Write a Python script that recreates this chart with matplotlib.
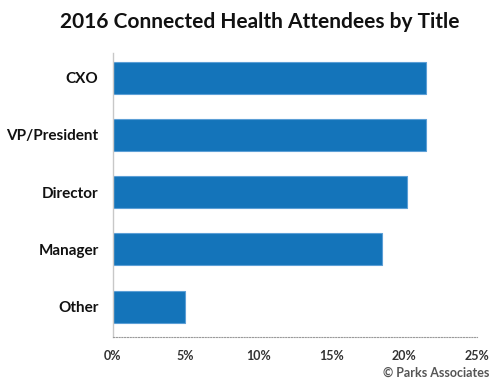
import matplotlib
matplotlib.use("Agg")
import matplotlib.pyplot as plt

titles = ["CXO", "VP/President", "Director", "Manager", "Other"]
shares = [21.5, 21.5, 20.2, 18.5, 5.0]
xticks = [0, 5, 10, 15, 20, 25]
xtick_labels = ["0%", "5%", "10%", "15%", "20%", "25%"]

plt.rcParams["font.family"] = ["Lato", "DejaVu Sans"]

fig = plt.figure(figsize=(5.0, 3.88), dpi=100)
ax = fig.add_axes([0.225, 0.1314, 0.729, 0.7316])

ypos = list(range(len(titles)))
ax.barh(ypos, shares, height=0.56, color="#1474ba", edgecolor="#5c9fd6", linewidth=0.8)

ax.set_xlim(0, 25)
ax.set_ylim(4.53, -0.43)
ax.set_yticks(ypos)
ax.set_yticklabels(titles, fontsize=11, fontweight="bold", color="#111111")
ax.set_xticks(xticks)
ax.set_xticklabels(xtick_labels, fontsize=9, fontweight="bold", color="#333333")
ax.tick_params(axis="both", length=0)
ax.tick_params(axis="y", pad=10)
ax.tick_params(axis="x", pad=9)

for s in ["top", "right"]:
    ax.spines[s].set_visible(False)
ax.spines["left"].set_color("#c8c8c8")
ax.spines["left"].set_linewidth(1.0)
ax.spines["bottom"].set_color("#9a9a9a")
ax.spines["bottom"].set_linestyle((0, (1, 1.5)))
ax.spines["bottom"].set_linewidth(0.8)

fig.text(0.52, 0.943, "2016 Connected Health Attendees by Title",
         ha="center", va="center", fontsize=15, fontweight="bold", color="#111111")
fig.text(0.978, 0.04, "\u00a9 Parks Associates", ha="right", va="center",
         fontsize=9, fontweight="bold", color="#555555")

fig.savefig("out.png", dpi=100)
